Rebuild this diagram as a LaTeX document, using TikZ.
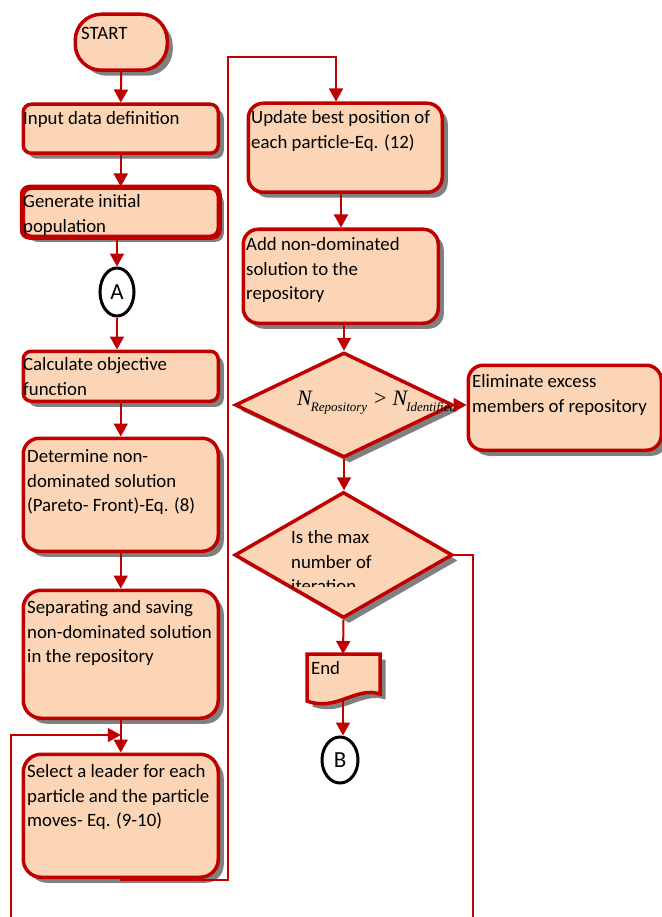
\documentclass[tikz,border=0pt]{standalone}
\usepackage{fontspec}
\setmainfont{Carlito}
\newfontfamily\tnr{Liberation Serif}
\usetikzlibrary{shapes.geometric,shadows,arrows.meta,calc}
\definecolor{dred}{HTML}{C00000}
\definecolor{peach}{HTML}{FBD5B5}
\definecolor{shad}{HTML}{808080}
\newcommand\bodyfont{\fontsize{18.8}{24.5}\selectfont}
\begin{document}
\begin{tikzpicture}[x=1pt,y=-1pt,
  shd/.style={drop shadow={shadow xshift=5.5pt,shadow yshift=-5.5pt,fill=shad,opacity=1}},
  box/.style={draw=dred,line width=3.5pt,fill=peach,rounded corners=#1,inner sep=0pt,anchor=north west,shd},
  box/.default=8pt,
  dia/.style={diamond,draw=dred,line width=3.5pt,fill=peach,inner sep=0pt,shd},
  txt/.style={anchor=north west,inner sep=0pt,align=left,font=\bodyfont,text=black},
  conn/.style={draw=black,line width=3pt,fill=white,ellipse,inner sep=0pt,font=\fontsize{23}{23}\selectfont},
  arr/.style={draw=dred,line width=2pt,-{Triangle[length=13pt,width=14pt]}},
  thinarr/.style={draw=dred,line width=1.5pt,-{Triangle[length=13pt,width=14pt]}},
  thinln/.style={draw=dred,line width=1.5pt}
]
\useasboundingbox (0,0) rectangle (661,917);

% left column
\node[box=26pt,minimum width=92pt,minimum height=56pt] (start) at (73.5,12.5) {};
\node[txt] (startt) at (81,27.5) {START};
\node[box,minimum width=195pt,minimum height=49pt] (inp) at (21.5,102.5) {};
\node[txt] (inpt) at (23,111.5) {Input data definition};
\node[box,minimum width=195pt,minimum height=48pt] (gen) at (21.5,186.5) {};
\node[txt] (gent) at (23,194.5) {Generate initial\\population};
\draw[draw=dred,line width=3.5pt,rounded corners=8pt] (gen.north west) rectangle (gen.south east);
\node[conn,minimum width=34pt,minimum height=48pt] (A) at (117,292) {A};
\node[box,minimum width=195pt,minimum height=50pt] (calc) at (21.5,349.5) {};
\node[txt] (calct) at (23,357.5) {Calculate objective\\function};
\node[box=16pt,minimum width=195pt,minimum height=113pt] (det) at (21.5,436.5) {};
\node[txt] (dett) at (27,449.5) {Determine non-\\dominated solution\\(Pareto- Front)-Eq. (8)};
\node[box=18pt,minimum width=195pt,minimum height=128pt] (sep) at (21.5,588.5) {};
\node[txt] (sept) at (27,600.5) {Separating and saving\\non-dominated solution\\in the repository};
\node[box=18pt,minimum width=195pt,minimum height=123pt] (sel) at (21.5,752.5) {};
\node[txt] (selt) at (27,764.5) {Select a leader for each\\particle and the particle\\moves- Eq. (9-10)};

% right column
\node[box=15pt,minimum width=194pt,minimum height=89pt] (upd) at (246.5,101.5) {};
\node[txt] (updt) at (251,110.5) {Update best position of\\each particle-Eq. (12)};
\node[box=15pt,minimum width=195pt,minimum height=94pt] (add) at (241.5,227.5) {};
\node[txt] (addt) at (246,237.5) {Add non-dominated\\solution to the\\repository};
\node[dia,minimum width=218pt,minimum height=105pt] (dec1) at (344,405) {};
\begin{scope}
\clip (236,350) rectangle (457,460);
\node[anchor=base west,inner sep=0pt] (dec1t) at (297,405) {\tnr\fontsize{22}{22}\selectfont\itshape N\kern-1pt\raisebox{-6pt}{\fontsize{13}{13}\selectfont Repository}\hspace{7pt}\upshape >\hspace{6pt}\itshape N\kern-1pt\raisebox{-6pt}{\fontsize{13}{13}\selectfont Identified}};
\end{scope}
\node[box=15pt,minimum width=193pt,minimum height=85pt] (elim) at (466.5,363.5) {};
\node[txt] (elimt) at (472,374.5) {Eliminate excess\\members of repository};
\node[dia,minimum width=218pt,minimum height=126pt] (dec2) at (343.5,555) {};
\begin{scope}
\clip (236,490) rectangle (452,586);
\node[txt] (dec2t) at (291,530.5) {Is the max\\number of\\iteration};
\end{scope}
\path[draw=dred,line width=3.5pt,fill=peach,shd] (307,654) -- (380,654) -- (380,694) .. controls (356,686) and (336,712) .. (307,701) -- cycle;
\coordinate (endtop) at (343,654);
\coordinate (endbot) at (343,700);
\node[txt] (endt) at (311,661) {End};
\node[conn,minimum width=36pt,minimum height=46pt] (B) at (340,760) {B};

% connectors
\draw[arr] (start.south) -- (inp.north);
\draw[arr] (inp.south) -- (gen.north);
\draw[arr] (A.north |- gen.south) -- (A.north);
\draw[arr] (A.south) -- (A.south |- calc.north);
\draw[arr] (calc.south) -- (det.north);
\draw[arr] (det.south) -- (sep.north);
\draw[arr] (sep.south) -- (sel.north);
\coordinate (c1) at (228,880);
\coordinate (c2) at (228,57);
\coordinate (c3) at (336,57);
\draw[thinarr] (sel.south) |- (c1) -- (c2) -- (c3) -- (c3 |- upd.north);
\coordinate (c4) at (341,0);
\draw[arr] (c4 |- upd.south) -- (c4 |- add.north);
\draw[arr] (add.south -| dec1.north) -- (dec1.north);
\draw[arr] (dec1.east) -- (dec1.east -| elim.west);
\draw[arr] (dec1.south) -- (dec1.south |- dec2.north);
\draw[arr] (dec2.south) -- (endtop);
\draw[arr] (endbot) -- (endbot |- B.north);
\coordinate (c5) at (473,555);
\coordinate (c6) at (473,917);
\draw[thinln] (dec2.east) -- (c5) -- (c6);
\coordinate (c7) at (11,917);
\coordinate (c8) at (11,735);
\draw[thinarr] (c7) -- (c8) -- (c8 -| sel.north);
\end{tikzpicture}
\end{document}
